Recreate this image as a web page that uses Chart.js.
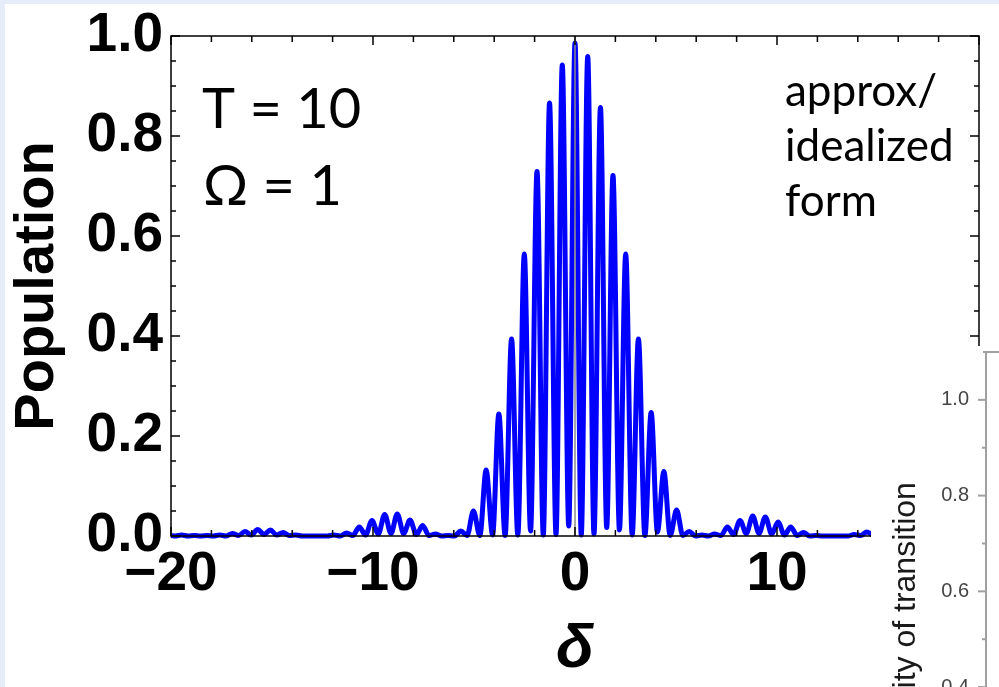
<!DOCTYPE html>
<html>
<head>
<meta charset="utf-8">
<script src="https://cdn.jsdelivr.net/npm/chart.js@4/dist/chart.umd.min.js"></script>
<style>
  html, body { margin: 0; padding: 0; width: 999px; height: 687px; overflow: hidden; background: #e5eef8; }
  #panel { position: absolute; left: 5px; top: 4px; right: 0; bottom: 0; background: #fff; }
  #main { position: absolute; left: 0; top: 0; }
  #inset { position: absolute; left: 871px; top: 346px; width: 128px; height: 590px; background: #fff; }
</style>
</head>
<body>
<div id="panel"></div>
<canvas id="main" width="999" height="687"></canvas>
<div id="inset"><canvas id="insetChart" width="128" height="590"></canvas></div>
<script>
// detuning values (troughs and fringe peaks)
const delta = [
  -20.00, -19.79, -19.48, -19.16, -18.85, -18.53, -18.22, -17.91, -17.59, -17.28,
  -16.96, -16.65, -16.34, -16.02, -15.71, -15.39, -15.08, -14.77, -14.45, -14.14,
  -13.82, -13.51, -13.19, -12.88, -12.57, -12.25, -11.94, -11.62, -11.31, -11.00,
  -10.68, -10.37, -10.05, -9.74, -9.42, -9.11, -8.80, -8.48, -8.17, -7.85,
  -7.54, -7.23, -6.91, -6.60, -6.28, -5.97, -5.65, -5.34, -5.03, -4.71,
  -4.40, -4.08, -3.77, -3.46, -3.14, -2.83, -2.51, -2.20, -1.88, -1.57,
  -1.26, -0.94, -0.63, -0.31, 0.00, 0.31, 0.63, 0.94, 1.26, 1.57,
  1.88, 2.20, 2.51, 2.83, 3.14, 3.46, 3.77, 4.08, 4.40, 4.71,
  5.03, 5.34, 5.65, 5.97, 6.28, 6.60, 6.91, 7.23, 7.54, 7.85,
  8.17, 8.48, 8.80, 9.11, 9.42, 9.74, 10.05, 10.37, 10.68, 11.00,
  11.31, 11.62, 11.94, 12.25, 12.57, 12.88, 13.19, 13.51, 13.82, 14.14,
  14.45, 14.77, 15.08, 15.39, 15.71, 16.02, 16.34, 16.65, 16.96, 17.28,
  17.59, 17.91, 18.22, 18.53, 18.85, 19.16, 19.48, 19.79, 20.00
];
const population = [
  0.001, 0.000, 0.002, 0.000, 0.001, 0.000, 0.001, 0.000, 0.002, 0.000,
  0.005, 0.001, 0.009, 0.002, 0.013, 0.003, 0.012, 0.002, 0.007, 0.001,
  0.002, 0.000, 0.000, 0.000, 0.000, 0.000, 0.002, 0.000, 0.006, 0.001,
  0.018, 0.002, 0.031, 0.004, 0.043, 0.005, 0.044, 0.005, 0.032, 0.003,
  0.021, 0.001, 0.004, 0.000, 0.001, 0.000, 0.010, 0.001, 0.050, 0.001,
  0.132, 0.002, 0.244, 0.001, 0.394, 0.002, 0.564, 0.010, 0.729, 0.002,
  0.866, 0.003, 0.942, 0.020, 0.986, 0.002, 0.959, 0.004, 0.857, 0.017,
  0.721, 0.012, 0.564, 0.002, 0.394, 0.001, 0.247, 0.008, 0.129, 0.001,
  0.052, 0.001, 0.009, 0.000, 0.002, 0.000, 0.004, 0.001, 0.018, 0.003,
  0.031, 0.005, 0.040, 0.005, 0.038, 0.004, 0.028, 0.002, 0.018, 0.001,
  0.007, 0.000, 0.001, 0.000, 0.000, 0.000, 0.000, 0.000, 0.003, 0.001,
  0.008, 0.002, 0.012, 0.003, 0.013, 0.002, 0.009, 0.001, 0.005, 0.000,
  0.002, 0.000, 0.001, 0.000, 0.001, 0.000, 0.002, 0.000, 0.001
];
const xTicks = [-20, -10, 0, 10, 20];
const yTicks = [0, 0.2, 0.4, 0.6, 0.8, 1.0];
const insetTicks = [0, 0.2, 0.4, 0.6, 0.8, 1.0];

const points = delta.map((d, i) => ({ x: d, y: population[i] }));

function seg(ctx, x1, y1, x2, y2) {
  ctx.beginPath();
  ctx.moveTo(x1, y1);
  ctx.lineTo(x2, y2);
  ctx.stroke();
}

// Mathematica-style frame with inward ticks, zero line and the text notes
const frame = {
  id: 'frame',
  afterDatasetsDraw(chart) {
    const { ctx, chartArea: a, scales: { x, y } } = chart;
    ctx.save();
    ctx.strokeStyle = '#8a8a8a';
    ctx.lineWidth = 1.5;
    const x0 = x.getPixelForValue(0);
    seg(ctx, x0, a.top, x0, a.bottom);

    ctx.strokeStyle = '#000';
    ctx.lineWidth = 1.5;
    ctx.strokeRect(a.left, a.top, a.right - a.left, a.bottom - a.top);
    for (let v = -20; v <= 20; v += 2) {
      const px = x.getPixelForValue(v);
      const len = v % 10 === 0 ? 9 : 6;
      seg(ctx, px, a.bottom, px, a.bottom - len);
      seg(ctx, px, a.top, px, a.top + len);
    }
    for (let i = 0; i <= 20; i++) {
      const py = y.getPixelForValue(i * 0.05);
      const len = i % 4 === 0 ? 9 : 5;
      seg(ctx, a.left, py, a.left + len, py);
      seg(ctx, a.right, py, a.right - len, py);
    }
    ctx.restore();
  },
  afterDraw(chart) {
    const ctx = chart.ctx;
    ctx.save();
    ctx.fillStyle = '#000';
    ctx.textAlign = 'left';
    ctx.textBaseline = 'alphabetic';
    ctx.font = '56px Lato';
    ctx.fillText('T = 10', 202, 128);
    ctx.fillText('\u03A9 = 1', 203, 205);
    ctx.font = '44px Lato';
    ctx.fillText('approx/', 785, 106);
    ctx.fillText('idealized', 785, 161);
    ctx.fillText('form', 785, 216);
    ctx.restore();
  }
};

const config = {
  type: 'line',
  data: {
    datasets: [{
      data: points,
      borderColor: '#0000ff',
      borderWidth: 5,
      pointRadius: 0,
      cubicInterpolationMode: 'monotone',
      fill: false,
      clip: 4
    }]
  },
  options: {
    responsive: false,
    animation: false,
    layout: { padding: { top: 36, right: 20, bottom: 0, left: 0 } },
    plugins: { legend: { display: false }, tooltip: { enabled: false } },
    scales: {
      x: {
        type: 'linear',
        min: -20,
        max: 20,
        grid: { display: false, drawTicks: false },
        border: { display: false },
        afterBuildTicks: s => { s.ticks = xTicks.map(v => ({ value: v })); },
        ticks: {
          callback: v => v < 0 ? '\u2212' + Math.abs(v) : String(v),
          font: { family: 'Liberation Sans', weight: 'bold', size: 55 },
          color: '#000',
          padding: 6,
          maxRotation: 0,
          autoSkip: false
        },
        title: {
          display: true,
          text: '\u03B4',
          font: { family: 'Liberation Sans', style: 'italic', weight: 'bold', size: 62 },
          color: '#000',
          padding: { top: 0, bottom: 0 }
        },
        afterFit: s => { s.height = 151; s.paddingLeft = 0; s.paddingRight = 0; }
      },
      y: {
        type: 'linear',
        min: 0,
        max: 1,
        grid: { display: false, drawTicks: false },
        border: { display: false },
        afterBuildTicks: s => { s.ticks = yTicks.map(v => ({ value: v })); },
        ticks: {
          callback: v => v.toFixed(1),
          font: { family: 'Liberation Sans', weight: 'bold', size: 55 },
          color: '#000',
          padding: 8
        },
        title: {
          display: true,
          text: 'Population',
          font: { family: 'Liberation Sans', weight: 'bold', size: 56 },
          color: '#000',
          padding: { top: 4, bottom: 0 }
        },
        afterFit: s => { s.width = 171; s.paddingTop = 0; s.paddingBottom = 0; }
      }
    }
  },
  plugins: [frame]
};

new Chart(document.getElementById('main'), config);

// the overlapping second figure in the lower right corner
const insetAxis = {
  id: 'insetAxis',
  afterDraw(chart) {
    const { ctx, chartArea: a, scales: { y } } = chart;
    ctx.save();
    ctx.strokeStyle = '#a0a0a0';
    ctx.lineWidth = 2;
    seg(ctx, a.left, a.top, a.left, a.bottom);
    seg(ctx, a.left - 3, a.top, a.right, a.top);
    for (let i = 0; i <= 10; i++) {
      const py = y.getPixelForValue(i / 10);
      const len = i % 2 === 0 ? 8 : 4;
      seg(ctx, a.left, py, a.left - len, py);
    }
    ctx.restore();
  }
};

new Chart(document.getElementById('insetChart'), {
  type: 'line',
  data: { datasets: [] },
  options: {
    responsive: false,
    animation: false,
    layout: { padding: { top: 6, right: 0, bottom: 0, left: 0 } },
    plugins: { legend: { display: false }, tooltip: { enabled: false } },
    scales: {
      x: { type: 'linear', min: 0, max: 1, display: false },
      y: {
        type: 'linear',
        position: 'left',
        min: -0.12,
        max: 1.1,
        grid: { display: false, drawTicks: false },
        border: { display: false },
        afterBuildTicks: s => { s.ticks = insetTicks.map(v => ({ value: v })); },
        ticks: {
          callback: v => v.toFixed(1),
          font: { family: 'Liberation Sans', size: 20 },
          color: '#444',
          padding: 17
        },
        title: {
          display: true,
          text: 'Probability of transition',
          font: { family: 'Liberation Sans', size: 32 },
          color: '#1a1a1a',
          padding: { top: 16, bottom: 0 }
        },
        afterFit: s => { s.width = 115; s.paddingTop = 0; s.paddingBottom = 0; }
      }
    }
  },
  plugins: [insetAxis]
});
</script>
</body>
</html>
